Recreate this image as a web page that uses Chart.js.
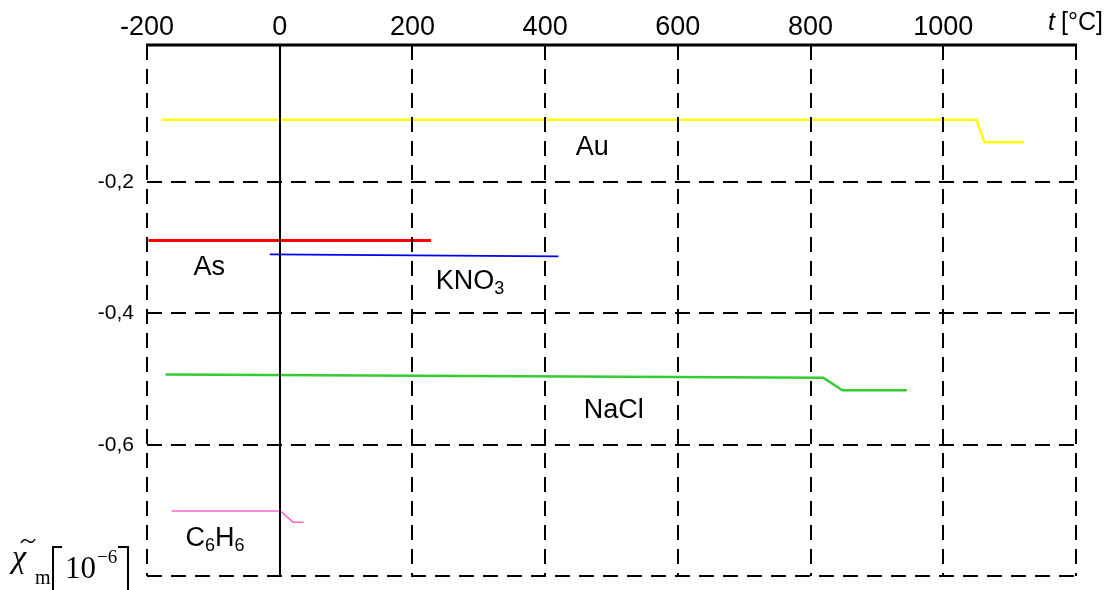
<!DOCTYPE html>
<html>
<head>
<meta charset="utf-8">
<script src="https://cdn.jsdelivr.net/npm/chart.js@4"></script>
<style>
  html, body { margin: 0; padding: 0; background: #fff; }
  #wrap { width: 1118px; height: 590px; }
</style>
</head>
<body>
<div id="wrap"><canvas id="myChart"></canvas></div>
<script>
// susceptibility vs temperature
var auT = [-178, 1050, 1062, 1121];
var auChi = [-0.105, -0.105, -0.139, -0.139];
var asT = [-198, 228];
var asChi = [-0.289, -0.289];
var kno3T = [-15, 420];
var kno3Chi = [-0.310, -0.313];
var naclT = [-172, 819, 848, 945];
var naclChi = [-0.493, -0.498, -0.517, -0.517];
var c6h6T = [-163, 1, 20, 36];
var c6h6Chi = [-0.701, -0.701, -0.718, -0.718];

var xTicks = [-200, 0, 200, 400, 600, 800, 1000, 1200];
var yTicks = [-0.8, -0.6, -0.4, -0.2];
var yTop = 0.009;

// substance names, "_" marks a subscript digit
var labelNames = ["Au", "As", "KNO_3", "NaCl", "C_6H_6"];
var labelT = [446, -130, 235, 458, -142];
var labelChi = [-0.159, -0.342, -0.362, -0.560, -0.754];

function pts(t, c) {
  return t.map(function (v, i) { return { x: v, y: c[i] }; });
}

function drawRich(ctx, text, x, y, size) {
  var big = size + 'px "Liberation Sans", Arial, sans-serif';
  var small = Math.round(size * 0.65) + 'px "Liberation Sans", Arial, sans-serif';
  ctx.textAlign = 'left';
  ctx.textBaseline = 'alphabetic';
  for (var i = 0; i < text.length; i++) {
    var ch = text[i];
    if (ch === '_') {
      i++;
      ctx.font = small;
      ctx.fillText(text[i], x, y + size * 0.2);
      x += ctx.measureText(text[i]).width;
    } else {
      ctx.font = big;
      ctx.fillText(ch, x, y);
      x += ctx.measureText(ch).width;
    }
  }
}

var textPlugin = {
  id: 'texts',
  afterDraw: function (chart) {
    var ctx = chart.ctx;
    var xs = chart.scales.x, ys = chart.scales.y;
    ctx.save();
    ctx.setLineDash([]);
    ctx.fillStyle = '#000';
    ctx.strokeStyle = '#000';

    // solid top axis line
    var top = ys.getPixelForValue(yTop);
    ctx.fillRect(xs.left - 1, top - 1.5, xs.right - xs.left + 2, 3);

    for (var i = 0; i < labelNames.length; i++) {
      drawRich(ctx, labelNames[i], xs.getPixelForValue(labelT[i]), ys.getPixelForValue(labelChi[i]), 27);
    }

    // x title
    ctx.textAlign = 'left';
    ctx.textBaseline = 'alphabetic';
    ctx.font = 'italic 25px "Liberation Sans", Arial, sans-serif';
    ctx.fillText('t', 1048, 30);
    ctx.font = '25px "Liberation Sans", Arial, sans-serif';
    ctx.fillText(' [°C]', 1054, 30);

    // y title: chi~_m [10^-6]
    ctx.font = 'italic 32px "Liberation Serif", "Times New Roman", serif';
    ctx.fillText('χ', 12, 567);
    ctx.lineWidth = 1.5;
    ctx.beginPath();
    ctx.moveTo(21, 543);
    ctx.bezierCurveTo(23, 539, 26, 539, 28, 541);
    ctx.bezierCurveTo(30, 543, 33, 543, 35, 539);
    ctx.stroke();
    ctx.font = '20px "Liberation Serif", "Times New Roman", serif';
    ctx.fillText('m', 35, 584);
    ctx.lineWidth = 2;
    ctx.beginPath();
    ctx.moveTo(62, 547); ctx.lineTo(53, 547); ctx.lineTo(53, 592);
    ctx.moveTo(118, 547); ctx.lineTo(128, 547); ctx.lineTo(128, 592);
    ctx.stroke();
    ctx.font = '31px "Liberation Serif", "Times New Roman", serif';
    ctx.fillText('10', 65, 578);
    ctx.font = '19px "Liberation Serif", "Times New Roman", serif';
    ctx.fillText('\u22126', 97, 563);
    ctx.restore();
  }
};

var ctx = document.getElementById("myChart").getContext('2d');
var myChart = new Chart(ctx, {
  type: 'scatter',
  data: {
    datasets: [
      { data: pts(auT, auChi), borderColor: '#ffff00', borderWidth: 2.5 },
      { data: pts(asT, asChi), borderColor: '#ff0000', borderWidth: 3 },
      { data: pts(kno3T, kno3Chi), borderColor: '#0000ee', borderWidth: 1.6 },
      { data: pts(naclT, naclChi), borderColor: '#33cc33', borderWidth: 2.5 },
      { data: pts(c6h6T, c6h6Chi), borderColor: '#ff66cc', borderWidth: 1.6 }
    ]
  },
  options: {
    responsive: true,
    maintainAspectRatio: false,
    animation: false,
    showLine: true,
    elements: { point: { radius: 0 }, line: { tension: 0 } },
    layout: { padding: { left: 0, right: 42, top: 0, bottom: 14 } },
    plugins: { legend: { display: false }, tooltip: { enabled: false } },
    scales: {
      x: {
        type: 'linear',
        position: 'top',
        min: -200,
        max: 1200,
        afterBuildTicks: function (s) { s.ticks = xTicks.map(function (v) { return { value: v }; }); },
        afterFit: function (s) { s.height = 45; s.paddingLeft = 0; s.paddingRight = 0; },
        ticks: {
          callback: function (v) { return v === 1200 ? '' : String(v); },
          font: { family: 'Liberation Sans', size: 27 },
          color: '#000',
          padding: 1,
          maxRotation: 0,
          autoSkip: false
        },
        grid: { drawTicks: false, color: '#000', lineWidth: 2, z: 1 },
        border: {
          display: false,
          dash: function (c) { return c.tick && c.tick.value === 0 ? [] : [15, 9]; }
        }
      },
      y: {
        type: 'linear',
        min: -0.8,
        max: yTop,
        afterBuildTicks: function (s) { s.ticks = yTicks.map(function (v) { return { value: v }; }); },
        afterFit: function (s) { s.width = 147; s.paddingTop = 0; s.paddingBottom = 0; },
        ticks: {
          callback: function (v) { return v === -0.8 ? '' : v.toFixed(1).replace('.', ','); },
          font: { family: 'Liberation Sans', size: 21 },
          color: '#000',
          padding: 13
        },
        grid: { drawTicks: false, color: '#000', lineWidth: 2, z: 1 },
        border: { display: false, dash: [15, 9] }
      }
    }
  },
  plugins: [textPlugin]
});
</script>
</body>
</html>
